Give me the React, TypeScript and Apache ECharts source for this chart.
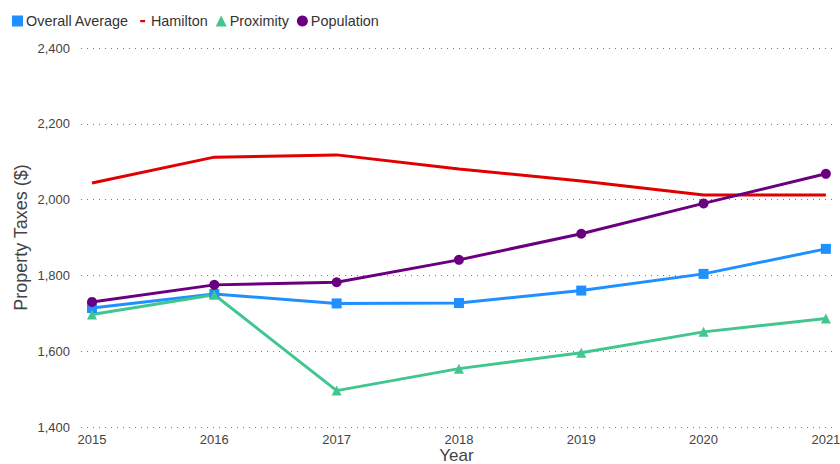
import React, { useEffect, useRef } from "react";
import * as echarts from "echarts";

const years = [2015, 2016, 2017, 2018, 2019, 2020, 2021];
const overallAverage = [1714, 1751, 1726, 1727, 1760, 1804, 1870];
const hamilton = [2044, 2112, 2118, 2081, 2049, 2012, 2012];
const proximity = [1697, 1749, 1496, 1554, 1596, 1651, 1686];
const population = [1730, 1775, 1782, 1841, 1910, 1990, 2068];
const yTicks = [1400, 1600, 1800, 2000, 2200, 2400];

const pairs = (vals: number[]) => years.map((y, i) => [y, vals[i]]);

export default function App() {
  const ref = useRef<HTMLDivElement>(null);
  useEffect(() => {
    if (!ref.current) return;
    const chart = echarts.init(ref.current, undefined, { renderer: "svg" });
    const font = "'Liberation Sans', Arial, sans-serif";
    chart.setOption({
      animation: false,
      textStyle: { fontFamily: font },
      legend: {
        left: 12,
        top: 14,
        padding: 0,
        itemWidth: 11,
        itemHeight: 11,
        itemGap: 8,
        textStyle: { fontSize: 14.4, color: "#333", fontFamily: font, padding: [0, 0, 0, -2] },
        data: [
          { name: "Overall Average", icon: "rect" },
          { name: "Hamilton", icon: "path://M0,0 M10,10 M3,4.1 L7.4,4.1 L7.4,6.1 L3,6.1 Z" },
          { name: "Proximity", icon: "triangle" },
          { name: "Population", icon: "circle" },
        ],
      },
      grid: { left: 81, right: 8, top: 48, bottom: 37, outerBoundsMode: "none", containLabel: false },
      xAxis: {
        type: "value",
        min: 2014.91,
        max: 2021.05,
        name: "Year",
        nameLocation: "middle",
        nameGap: 20,
        nameMoveOverlap: false,
        nameTextStyle: { fontSize: 17, color: "#444", fontFamily: font, lineHeight: 17 },
        axisLine: { show: false },
        axisTick: { show: false },
        splitLine: { show: false },
        axisLabel: {
          customValues: years,
          formatter: (v: number) => String(v),
          fontSize: 13,
          color: "#444",
          margin: 6,
          fontFamily: font,
        },
      },
      yAxis: {
        type: "value",
        min: yTicks[0],
        max: yTicks[yTicks.length - 1],
        interval: 200,
        name: "Property Taxes ($)",
        nameLocation: "middle",
        nameGap: 51,
        nameMoveOverlap: false,
        nameTextStyle: { fontSize: 18, color: "#444", fontFamily: font },
        axisLine: { show: false },
        axisTick: { show: false },
        axisLabel: { fontSize: 13, color: "#444", margin: 11, fontFamily: font },
        splitLine: { show: true, lineStyle: { type: [1, 5], color: "#777", width: 1 } },
      },
      series: [
        {
          name: "Overall Average",
          type: "line",
          data: pairs(overallAverage),
          symbol: "rect",
          symbolSize: 10,
          itemStyle: { color: "#1e90ff" },
          lineStyle: { width: 3, color: "#1e90ff" },
        },
        {
          name: "Hamilton",
          type: "line",
          data: pairs(hamilton),
          showSymbol: false,
          symbol: "none",
          itemStyle: { color: "#e00000" },
          lineStyle: { width: 3, color: "#e00000" },
        },
        {
          name: "Proximity",
          type: "line",
          data: pairs(proximity),
          symbol: "triangle",
          symbolSize: 10,
          itemStyle: { color: "#40c68e" },
          lineStyle: { width: 3, color: "#40c68e" },
        },
        {
          name: "Population",
          type: "line",
          data: pairs(population),
          symbol: "circle",
          symbolSize: 10,
          itemStyle: { color: "#6a0080" },
          lineStyle: { width: 3, color: "#6a0080" },
        },
      ],
    });
    return () => chart.dispose();
  }, []);
  return <div ref={ref} style={{ width: 840, height: 464, position: "absolute", left: 0, top: 0 }} />;
}
